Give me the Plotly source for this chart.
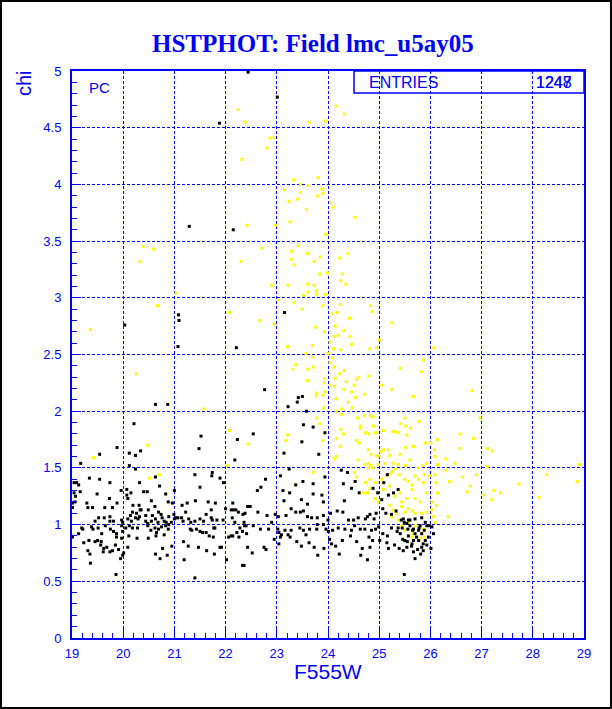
import plotly.graph_objects as go

# ---------------- data (F555W magnitude, chi) ----------------
x_tick_vals = [19, 20, 21, 22, 23, 24, 25, 26, 27, 28, 29]
y_tick_vals = [0, 0.5, 1, 1.5, 2, 2.5, 3, 3.5, 4, 4.5, 5]
y_tick_text = ["0", "0.5", "1", "1.5", "2", "2.5", "3", "3.5", "4", "4.5", "5"]
entries_labels = ["1247", "1248"]

black_upper = [
    (22.44, 4.99), (23.01, 4.77), (21.88, 4.54), (21.29, 3.63), (22.15, 3.60),
    (20.03, 2.76), (21.08, 2.85), (21.09, 2.80), (21.07, 2.57), (22.21, 2.56),
    (23.15, 2.87), (22.76, 2.19), (20.63, 2.06), (20.87, 2.06), (23.22, 2.04),
    (23.40, 2.08), (23.42, 2.12), (23.50, 2.13), (23.58, 2.00), (20.21, 1.89),
    (21.52, 1.78), (22.54, 1.80), (23.52, 1.88), (23.71, 1.86), (23.94, 1.81),
    (19.88, 1.68), (19.54, 1.62), (20.12, 1.63), (20.24, 1.61), (20.34, 1.65),
    (19.17, 1.54), (20.12, 1.52), (20.24, 1.49), (21.48, 1.67), (22.18, 1.57),
    (22.23, 1.75),
]

black_left = [
    (19.34, 1.41), (19.54, 1.40), (19.74, 1.37), (19.04, 1.37), (19.09, 1.37),
    (19.13, 1.35), (19.49, 1.27), (19.16, 1.29), (19.04, 1.28), (19.07, 1.25),
    (19.06, 1.20), (19.01, 1.19), (19.29, 1.19), (19.01, 1.15), (19.31, 1.15),
    (19.40, 1.15), (19.64, 1.15), (19.73, 1.23), (19.88, 1.19), (19.79, 1.15),
    (19.96, 1.30), (20.07, 1.31), (20.15, 1.28), (20.07, 1.26), (20.09, 1.23),
    (20.32, 1.37), (20.40, 1.29), (20.47, 1.29), (20.63, 1.42), (20.71, 1.34),
    (20.83, 1.27), (20.55, 1.21), (20.88, 1.20), (20.96, 1.19), (21.00, 1.30),
    (20.19, 1.17), (20.31, 1.17), (20.33, 1.13), (20.35, 1.13), (20.49, 1.13),
    (20.62, 1.16), (20.18, 1.11), (20.26, 1.10), (20.14, 1.08), (20.24, 1.06),
    (20.32, 1.07), (20.44, 1.08), (20.57, 1.08), (20.69, 1.11), (20.74, 1.09),
    (20.89, 1.07), (20.99, 1.09), (21.00, 1.05), (21.15, 1.17), (21.25, 1.19),
    (21.22, 1.11), (21.41, 1.21), (21.40, 1.44), (21.50, 1.33), (21.66, 1.20),
    (21.73, 1.43), (21.74, 1.46), (21.89, 1.41), (21.96, 1.37), (21.80, 1.19),
    (21.72, 1.13), (21.62, 1.09), (22.00, 1.14), (22.14, 1.19), (22.11, 1.13),
    (22.15, 1.13), (22.20, 1.13), (22.25, 1.11), (22.34, 1.09),
    (19.45, 1.03), (19.52, 1.06), (19.63, 1.06), (19.74, 1.07), (19.74, 1.03),
    (19.81, 1.03), (19.97, 1.04), (19.99, 1.02), (20.09, 1.05), (20.16, 1.03),
    (20.29, 1.05), (20.44, 1.03), (20.48, 1.01), (20.55, 1.03), (20.63, 1.05),
    (20.68, 1.02), (20.76, 1.06), (20.80, 1.03), (20.84, 1.02), (20.94, 1.02),
    (21.04, 1.06), (21.07, 1.06), (21.14, 1.06), (21.17, 1.03), (21.28, 1.05),
    (21.32, 1.02), (21.40, 1.03), (21.50, 1.05), (21.57, 1.03), (21.72, 1.06),
    (21.74, 1.04), (21.83, 1.04), (21.95, 1.04), (22.13, 1.06), (22.18, 1.02),
    (22.36, 1.02), (22.37, 0.99),
    (19.19, 0.97), (19.21, 0.96), (19.13, 0.92), (19.01, 0.89), (19.38, 0.98),
    (19.41, 0.96), (19.51, 0.97), (19.58, 0.92), (19.65, 0.99), (19.75, 0.96),
    (19.81, 0.94), (19.87, 0.92), (19.97, 0.99), (20.05, 0.97), (20.12, 0.99),
    (20.18, 0.97), (20.28, 0.97), (20.48, 0.99), (20.54, 0.95), (20.62, 0.97),
    (20.65, 0.93), (20.69, 0.96), (20.75, 0.98), (20.83, 0.99), (20.88, 0.96),
    (20.89, 1.00), (20.80, 0.91), (20.64, 0.90), (20.49, 0.88), (20.27, 0.88),
    (20.11, 0.90), (19.99, 0.94), (19.97, 0.88), (19.87, 0.89), (19.50, 0.86),
    (19.33, 0.86), (19.23, 0.84), (19.45, 0.85), (19.57, 0.85), (19.56, 0.82),
    (19.62, 0.79), (19.68, 0.80), (19.74, 0.76), (19.61, 0.76), (19.85, 0.82),
    (19.91, 0.78), (19.79, 0.77), (20.01, 0.75), (19.99, 0.73), (19.95, 0.70),
    (20.09, 0.80), (19.31, 0.77), (19.35, 0.74), (19.36, 0.66), (20.63, 0.74),
    (20.72, 0.70), (20.77, 0.79), (20.86, 0.73), (20.95, 0.81), (21.18, 0.85),
    (21.19, 0.69), (21.31, 0.96), (21.34, 0.95), (21.43, 0.96), (21.50, 0.94),
    (21.55, 0.93), (21.62, 0.93), (21.68, 0.90), (21.77, 0.97), (21.76, 0.89),
    (21.79, 0.97), (21.89, 0.80), (21.92, 0.80), (22.06, 0.89), (22.11, 0.90),
    (22.14, 0.90), (22.22, 0.93), (22.26, 0.89), (22.28, 0.97), (22.33, 0.94),
    (22.40, 0.99), (22.02, 0.69), (21.78, 0.74), (21.63, 0.77), (21.47, 0.80),
    (21.27, 0.81), (21.40, 0.53), (22.36, 0.64), (19.86, 0.56),
]

black_right = [
    (23.49, 1.73), (23.14, 1.63), (23.82, 1.62), (24.26, 1.48), (24.38, 1.46),
    (23.24, 1.49), (23.07, 1.43), (22.78, 1.40), (22.69, 1.33), (22.62, 1.30),
    (23.51, 1.38), (23.37, 1.35), (23.71, 1.36), (23.94, 1.42), (24.30, 1.36),
    (24.53, 1.38), (24.46, 1.32), (23.12, 1.30), (23.25, 1.28), (23.14, 1.21),
    (23.48, 1.22), (23.71, 1.27), (23.88, 1.26), (23.91, 1.20), (23.60, 1.18),
    (24.32, 1.21), (24.61, 1.28), (24.88, 1.32), (24.97, 1.28), (25.05, 1.22),
    (25.18, 1.26), (25.28, 1.28), (25.37, 1.31), (25.09, 1.37), (25.16, 1.44),
    (22.43, 1.16), (22.48, 1.16), (22.38, 1.10), (22.63, 1.11), (22.81, 1.08),
    (22.97, 1.09), (23.03, 1.07), (23.18, 1.08), (23.28, 1.14), (23.37, 1.11),
    (23.46, 1.11), (23.52, 1.12), (23.60, 1.07), (23.68, 1.06), (23.79, 1.06),
    (23.91, 1.08), (24.05, 1.10), (24.00, 1.04), (24.18, 1.12), (24.29, 1.11),
    (24.40, 1.04), (24.50, 1.04), (24.59, 1.06), (24.73, 1.05), (24.77, 1.07),
    (24.82, 1.09), (24.90, 1.05), (24.94, 1.10), (25.07, 1.14), (25.13, 1.10),
    (25.24, 1.09), (25.33, 1.12), (25.47, 1.05), (25.57, 1.04), (25.70, 1.05),
    (25.83, 1.06),
    (22.41, 0.92), (22.54, 0.99), (22.68, 0.96), (22.84, 0.96), (22.90, 1.02),
    (23.02, 0.96), (23.04, 0.93), (23.09, 0.91), (23.16, 0.95), (23.22, 0.91),
    (23.28, 0.95), (23.45, 0.97), (23.52, 0.95), (23.57, 0.91), (23.64, 0.96),
    (23.78, 0.96), (23.79, 1.00), (23.91, 1.00), (23.96, 0.96), (24.01, 0.94),
    (24.09, 0.95), (24.20, 0.97), (24.33, 0.96), (24.46, 0.95), (24.52, 0.99),
    (24.63, 0.96), (24.72, 0.96), (24.80, 0.89), (24.85, 0.95), (24.93, 0.96),
    (24.99, 0.98), (25.07, 0.92), (25.16, 0.90), (25.24, 0.97), (25.35, 0.94),
    (25.45, 0.97), (25.56, 0.96), (25.67, 0.96), (25.78, 0.97), (25.88, 0.95),
    (25.98, 0.99), (26.03, 0.98), (26.06, 0.92),
    (22.43, 0.80), (22.52, 0.75), (22.75, 0.80), (22.79, 0.78), (22.95, 0.87),
    (23.07, 0.89), (23.04, 0.83), (23.26, 0.89), (23.39, 0.85), (23.48, 0.81),
    (23.63, 0.84), (23.73, 0.80), (23.80, 0.73), (23.92, 0.79), (24.03, 0.87),
    (24.07, 0.83), (24.15, 0.81), (24.22, 0.74), (24.28, 0.86), (24.44, 0.90),
    (24.56, 0.85), (24.67, 0.79), (24.64, 0.73), (24.77, 0.69), (24.82, 0.80),
    (24.87, 0.86), (25.01, 0.86), (25.15, 0.84), (25.18, 0.79), (25.30, 0.82),
    (25.39, 0.79), (25.46, 0.87), (25.55, 0.85), (25.63, 0.81), (25.67, 0.76),
    (25.75, 0.78), (25.81, 0.74), (25.86, 0.83), (25.93, 0.82), (25.96, 0.89),
    (26.01, 0.79), (25.86, 0.77), (25.70, 0.70), (22.33, 0.64), (25.49, 0.56),
    (25.43, 1.04), (25.49, 1.02), (25.54, 1.01), (25.60, 0.99), (25.65, 0.95),
    (25.70, 0.92), (25.73, 0.89), (25.77, 0.86), (25.57, 0.90), (25.50, 0.86),
    (25.67, 0.86), (25.37, 0.97), (25.41, 0.92), (25.60, 1.04), (25.80, 0.99),
    (25.90, 1.02), (25.93, 0.99), (25.83, 0.92), (25.77, 0.95), (25.64, 0.83),
    (25.54, 0.80), (25.47, 0.77), (25.83, 0.80), (25.90, 0.86),
]

yellow_upper = [
    (22.25, 4.66), (22.38, 4.55), (23.63, 4.55), (23.95, 4.56), (24.16, 4.69),
    (24.32, 4.62), (22.87, 4.41), (22.95, 4.41), (22.81, 4.32), (22.32, 4.22),
    (23.33, 4.04), (23.81, 4.06), (23.46, 4.00), (23.62, 3.99), (23.15, 3.95),
    (23.88, 3.96), (23.46, 3.93), (23.80, 3.90), (23.90, 3.92), (23.40, 3.87),
    (23.24, 3.85), (24.05, 3.84), (24.10, 3.80), (23.58, 3.78), (23.26, 3.67),
    (22.42, 3.64), (22.97, 3.64), (23.95, 3.56), (24.53, 3.71), (20.39, 3.45),
    (20.59, 3.43), (20.33, 3.32), (22.71, 3.44), (22.30, 3.32), (23.29, 3.41),
    (23.42, 3.46), (23.60, 3.39), (23.85, 3.36), (23.28, 3.34), (23.73, 3.32),
    (23.34, 3.29), (24.23, 3.35), (24.39, 3.39), (23.84, 3.21), (23.99, 3.22),
    (24.28, 3.21), (24.25, 3.15), (24.35, 3.12), (22.90, 3.11), (23.22, 3.11),
    (23.60, 3.12), (23.73, 3.11), (23.61, 3.05), (23.52, 3.02), (23.78, 3.06),
    (23.78, 3.03), (23.95, 3.03), (21.03, 3.04), (23.03, 2.98), (23.34, 2.96),
    (23.90, 2.93), (23.50, 2.90), (24.24, 2.94), (20.67, 2.93), (22.08, 2.87),
    (22.67, 2.80), (22.95, 2.77), (24.08, 2.86), (24.18, 2.87), (24.14, 2.75),
    (23.76, 2.74), (23.93, 2.70), (24.31, 2.71), (19.36, 2.72), (24.20, 2.67),
    (24.12, 2.66), (24.04, 2.61), (24.11, 2.55), (24.25, 2.54), (23.70, 2.58),
    (23.21, 2.57), (23.57, 2.51), (23.70, 2.48), (24.00, 2.51), (24.09, 2.47),
    (24.04, 2.43), (20.26, 2.33), (23.37, 2.41), (23.31, 2.37), (23.61, 2.37),
    (23.71, 2.39), (24.12, 2.39), (24.32, 2.36), (23.93, 2.29), (24.14, 2.29),
    (24.23, 2.33), (24.36, 2.26), (23.60, 2.27), (23.93, 2.25), (24.05, 2.23),
    (24.13, 2.22), (24.31, 2.19), (23.78, 2.16), (23.77, 2.14), (23.90, 2.14),
    (23.94, 2.17), (24.16, 2.11), (23.92, 2.03), (24.27, 2.02), (24.16, 2.00),
    (21.58, 2.02), (23.78, 1.94), (23.84, 1.89), (24.27, 1.97), (24.25, 1.84),
    (24.30, 1.80), (22.08, 1.83), (23.21, 1.79), (23.18, 1.74), (23.90, 1.74),
    (24.17, 1.76), (22.44, 1.71),
    (20.48, 1.70), (19.42, 1.59), (20.51, 1.41), (20.71, 1.44), (22.03, 1.52),
]

yellow_right = [
    (24.83, 2.93), (24.86, 2.88), (24.42, 2.82), (24.43, 2.66), (24.46, 2.59),
    (24.82, 2.55), (24.95, 2.56), (25.01, 2.63), (25.25, 2.78), (26.06, 2.56),
    (25.86, 2.45), (25.41, 2.38), (25.82, 2.35), (24.80, 2.31), (25.05, 2.23),
    (25.25, 2.19), (25.67, 2.13), (26.81, 2.18), (24.72, 2.15), (24.54, 2.12),
    (24.56, 2.28), (24.60, 2.30), (24.51, 2.23), (24.46, 2.17), (24.40, 2.08),
    (24.47, 2.03), (24.71, 1.96), (24.83, 1.96), (24.88, 1.95), (24.58, 1.94),
    (24.64, 1.87), (24.63, 1.85), (24.89, 1.87), (24.73, 1.81), (24.80, 1.80),
    (24.93, 1.81), (25.08, 1.83), (25.27, 1.82), (25.31, 1.82), (25.37, 1.81),
    (25.42, 1.89), (25.50, 1.94), (25.52, 1.87), (25.54, 1.79), (25.78, 1.91),
    (25.61, 1.85), (26.97, 1.94), (26.58, 1.80), (26.84, 1.76), (26.14, 1.75),
    (27.12, 1.67), (27.21, 1.65), (26.58, 1.67), (26.30, 1.58), (26.48, 1.54),
    (27.11, 1.51), (26.90, 1.44), (26.63, 1.42), (26.78, 1.34), (27.24, 1.30),
    (27.20, 1.22), (27.05, 1.26), (27.37, 1.28), (27.73, 1.36), (28.27, 1.44),
    (28.87, 1.38), (28.91, 1.53), (28.12, 1.24), (26.35, 1.07), (26.72, 1.29),
    (26.37, 1.38), (26.31, 1.48),
]

yellow_cluster = [
    (24.24, 1.69), (24.56, 1.74), (24.61, 1.72), (24.79, 1.66), (24.84, 1.62),
    (24.95, 1.61), (24.98, 1.60), (25.08, 1.66), (25.03, 1.64), (25.18, 1.66),
    (25.21, 1.61), (25.41, 1.62), (25.52, 1.68), (25.67, 1.69), (25.90, 1.72),
    (26.01, 1.72), (26.09, 1.60), (26.08, 1.66), (24.16, 1.60), (24.12, 1.58),
    (24.59, 1.57), (24.72, 1.53), (24.79, 1.54), (24.84, 1.52), (24.79, 1.50),
    (24.88, 1.50), (24.98, 1.53), (25.11, 1.54), (25.27, 1.54), (25.37, 1.53),
    (25.51, 1.52), (25.60, 1.57), (25.77, 1.50), (25.85, 1.52), (25.93, 1.54),
    (26.14, 1.53), (24.52, 1.46), (24.56, 1.42), (24.73, 1.37), (24.82, 1.40),
    (24.92, 1.37), (25.05, 1.40), (25.14, 1.43), (25.22, 1.45), (25.26, 1.47),
    (25.31, 1.49), (25.39, 1.44), (25.50, 1.40), (25.57, 1.38), (25.64, 1.35),
    (25.70, 1.43), (25.77, 1.40), (25.86, 1.37), (25.88, 1.44), (25.99, 1.43),
    (26.09, 1.44), (26.11, 1.37), (26.14, 1.28), (24.82, 1.32), (24.69, 1.28),
    (24.77, 1.28), (24.92, 1.23), (24.98, 1.20), (25.08, 1.31), (25.21, 1.34),
    (25.31, 1.25), (25.41, 1.28), (25.44, 1.20), (25.54, 1.23), (25.64, 1.31),
    (25.70, 1.23), (25.80, 1.20), (25.93, 1.28), (26.03, 1.20), (26.12, 1.17),
    (25.21, 1.17), (25.28, 1.13), (25.34, 1.10), (25.44, 1.16), (25.51, 1.11),
    (25.57, 1.14), (25.65, 1.12), (25.70, 1.10), (25.83, 1.10), (25.93, 1.11),
    (26.03, 1.13), (26.06, 1.07), (26.09, 1.02), (25.24, 1.07), (25.37, 1.04),
    (25.44, 0.99), (25.50, 0.95), (25.57, 1.02), (25.70, 0.99), (25.86, 0.96),
    (25.88, 0.89), (25.80, 0.88), (25.64, 0.89), (25.67, 0.92), (23.71, 1.46),
    (23.36, 1.35),
]

# ---------------- figure ----------------
BLUE = "#0000ff"
W, H = 612, 709
L, R, T, B = 72, 28, 71, 71
pw, ph = W - L - R, H - T - B


def px_x(p):
    return (p - L) / pw


def px_y(p):
    return 1 - (p - T) / ph


yellow_all = yellow_upper + yellow_right + yellow_cluster
black_all = black_upper + black_left + black_right

fig = go.Figure()
fig.add_trace(go.Scatter(
    x=[p[0] for p in yellow_all], y=[p[1] for p in yellow_all],
    mode="markers", marker=dict(symbol="square", size=3, color="#ffff00", line=dict(width=0)),
    hoverinfo="skip", showlegend=False))
fig.add_trace(go.Scatter(
    x=[p[0] for p in black_all], y=[p[1] for p in black_all],
    mode="markers", marker=dict(symbol="square", size=3, color="#000000", line=dict(width=0)),
    hoverinfo="skip", showlegend=False))

tick_font = dict(family="Liberation Sans, Arial, sans-serif", size=13, color=BLUE)
fig.update_xaxes(
    range=[19, 29], tickvals=x_tick_vals, ticktext=[str(v) for v in x_tick_vals],
    showgrid=True, gridcolor=BLUE, griddash="3px,2px", gridwidth=1,
    showline=True, linecolor=BLUE, linewidth=2, mirror=True,
    ticks="inside", ticklen=9, tickcolor=BLUE, tickwidth=1,
    minor=dict(dtick=0.2, ticks="inside", ticklen=5, tickcolor=BLUE, showgrid=False),
    tickfont=tick_font, zeroline=False, fixedrange=True, ticklabelstandoff=2,
)
fig.update_yaxes(
    range=[0, 5], tickvals=y_tick_vals, ticktext=y_tick_text,
    showgrid=True, gridcolor=BLUE, griddash="3px,2px", gridwidth=1,
    showline=True, linecolor=BLUE, linewidth=2, mirror=True,
    ticks="inside", ticklen=9, tickcolor=BLUE, tickwidth=1,
    minor=dict(dtick=0.1, ticks="inside", ticklen=5, tickcolor=BLUE, showgrid=False),
    tickfont=tick_font, zeroline=False, fixedrange=True, ticklabelstandoff=6,
)

annotations = [
    dict(text="<b>HSTPHOT: Field lmc_u5ay05</b>", x=px_x(313), y=px_y(44),
         xref="paper", yref="paper", showarrow=False, xanchor="center", yanchor="middle",
         font=dict(family="Liberation Serif, Times New Roman, serif", size=25, color=BLUE)),
    dict(text="F555W", x=px_x(328), y=px_y(671), xref="paper", yref="paper",
         showarrow=False, xanchor="center", yanchor="middle",
         font=dict(family="Liberation Sans, Arial, sans-serif", size=21, color=BLUE)),
    dict(text="chi", x=px_x(24), y=px_y(83), xref="paper", yref="paper", textangle=-90,
         showarrow=False, xanchor="center", yanchor="middle",
         font=dict(family="Liberation Sans, Arial, sans-serif", size=20, color=BLUE)),
    dict(text="PC", x=px_x(99), y=px_y(88), xref="paper", yref="paper",
         showarrow=False, xanchor="center", yanchor="middle",
         font=dict(family="Liberation Sans, Arial, sans-serif", size=15, color=BLUE)),
    dict(text="ENTRIES", x=px_x(367), y=px_y(82), xref="paper", yref="paper",
         showarrow=False, xanchor="left", yanchor="middle",
         font=dict(family="Liberation Sans, Arial, sans-serif", size=16, color=BLUE)),
]
for lab in entries_labels:
    annotations.append(dict(text=lab, x=px_x(554), y=px_y(82), xref="paper", yref="paper",
                            showarrow=False, xanchor="center", yanchor="middle",
                            font=dict(family="Liberation Sans, Arial, sans-serif", size=16, color=BLUE)))

shapes = [
    dict(type="rect", xref="paper", yref="paper", x0=px_x(354), x1=1, y0=px_y(93), y1=1,
         line=dict(color=BLUE, width=1.5), fillcolor="rgba(0,0,0,0)"),
    dict(type="rect", xref="paper", yref="paper", x0=px_x(1), x1=px_x(W - 1),
         y0=px_y(H - 1), y1=px_y(1), line=dict(color="#000000", width=2),
         fillcolor="rgba(0,0,0,0)", layer="above"),
]

fig.update_layout(
    width=W, height=H, margin=dict(l=L, r=R, t=T, b=B, pad=0),
    paper_bgcolor="white", plot_bgcolor="white",
    annotations=annotations, shapes=shapes, showlegend=False,
)

fig.write_html(
    "out.html",
    config={"displayModeBar": False, "staticPlot": True},
    post_script="document.body.style.margin='0';document.body.style.padding='0';"
                "document.body.style.overflow='hidden';",
)
